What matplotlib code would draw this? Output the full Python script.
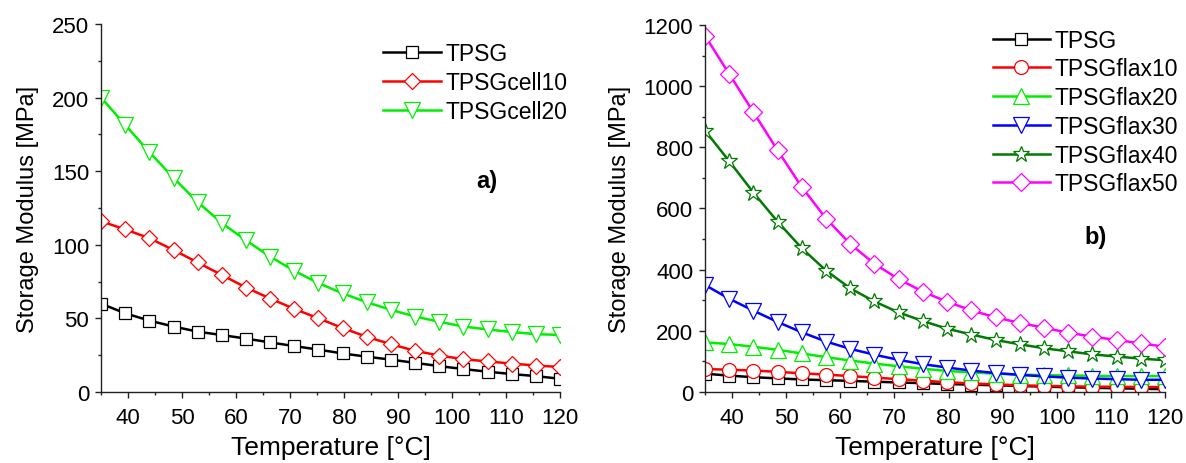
import numpy as np
import matplotlib.pyplot as plt
from matplotlib.ticker import MultipleLocator

plt.rcParams['font.family'] = ['Liberation Sans', 'DejaVu Sans']

# temperatures of the plotted points [°C]
temp = np.linspace(35, 120, 20)

# panel a) storage modulus [MPa]
tpsg = [60, 53.5, 48.5, 44.5, 41, 38.7, 36.3, 33.7, 31.2, 28.8,
        26.2, 24, 22, 19.8, 17.6, 15.6, 13.8, 12.2, 10.8, 9]
cell10 = [116, 110.5, 104.5, 96.5, 88, 79.5, 71, 63.5, 56.5, 50,
          43.5, 37.5, 32.5, 28, 24.8, 22.3, 20.8, 19.3, 18, 17]
cell20 = [200, 181.5, 163, 145.5, 129, 114.8, 103, 92, 82.3, 74,
          67, 61, 55.8, 51.3, 47.7, 44.5, 42.5, 40.8, 39.3, 38.8]

# panel b) storage modulus [MPa]
flax10 = [75, 73, 70, 66, 61, 57, 52, 47, 42, 37,
          32, 28, 25, 22, 20, 18.5, 17.5, 17, 16.5, 16]
flax20 = [162, 157, 148, 138, 126, 114, 103, 93, 84, 76,
          69, 64, 60, 57, 55, 54, 53, 52, 52, 52]
flax30 = [350, 305, 266, 229, 195, 165, 141, 122, 105, 91,
          80, 70, 62, 56, 51, 47, 44, 42, 40, 40]
flax40 = [855, 755, 652, 557, 470, 397, 339, 296, 260, 232,
          207, 188, 170, 156, 143, 133, 123, 116, 109, 104]
flax50 = [1165, 1040, 915, 790, 670, 567, 484, 419, 369, 328,
          295, 267, 244, 226, 210, 194, 181, 170, 159, 148]

FS = 16
LFS = 16.5


def series(ax, y, color, marker, label, ms=9):
    ax.plot(temp, y, color=color, lw=1.8, marker=marker, ms=ms,
            mfc='white', mec=color, mew=0.9, label=label)


def style(ax, ymax, major, minor):
    ax.set_xlim(35, 120)
    ax.set_ylim(0, ymax)
    ax.xaxis.set_major_locator(MultipleLocator(10))
    ax.xaxis.set_minor_locator(MultipleLocator(5))
    ax.yaxis.set_major_locator(MultipleLocator(major))
    ax.yaxis.set_minor_locator(MultipleLocator(minor))
    ax.set_xticks(np.arange(40, 121, 10))
    for s in ['top', 'right']:
        ax.spines[s].set_visible(False)
    for s in ['left', 'bottom']:
        ax.spines[s].set_linewidth(1.0)
        ax.spines[s].set_color('#222222')
    ax.tick_params(which='major', direction='out', length=4.5, width=1,
                   labelsize=FS, color='#222222')
    ax.tick_params(axis='x', which='major', pad=6)
    ax.tick_params(axis='y', which='major', pad=4)
    ax.tick_params(which='minor', direction='out', length=2.5, width=1,
                   color='#222222')
    ax.set_xlabel('Temperature [°C]', fontsize=19, labelpad=5)
    ax.set_ylabel('Storage Modulus [MPa]', fontsize=17, labelpad=9)


def legend(ax, anchor):
    ax.legend(loc='upper left', bbox_to_anchor=anchor, frameon=False,
              fontsize=LFS, handlelength=2.5, handletextpad=0.2,
              labelspacing=0.25, borderpad=0, borderaxespad=0)


fig = plt.figure(figsize=(11.86, 4.64), dpi=100)
ax1 = fig.add_axes([0.0852, 0.153, 0.387, 0.793])
ax2 = fig.add_axes([0.5944, 0.153, 0.388, 0.791])

series(ax1, tpsg, 'black', 's', 'TPSG', ms=8.5)
series(ax1, cell10, '#ff0000', 'D', 'TPSGcell10', ms=8.5)
series(ax1, cell20, '#00ee00', 'v', 'TPSGcell20', ms=11)
style(ax1, 250, 50, 25)
legend(ax1, (0.615, 0.95))
ax1.text(0.84, 0.575, 'a)', transform=ax1.transAxes, fontsize=17,
         fontweight='bold', ha='center', va='center')

series(ax2, tpsg, 'black', 's', 'TPSG', ms=8.5)
series(ax2, flax10, '#ff0000', 'o', 'TPSGflax10', ms=10)
series(ax2, flax20, '#00ee00', '^', 'TPSGflax20', ms=11)
series(ax2, flax30, '#0000ff', 'v', 'TPSGflax30', ms=11)
series(ax2, flax40, '#007a00', '*', 'TPSGflax40', ms=12)
series(ax2, flax50, '#ff00ff', 'D', 'TPSGflax50', ms=9.5)
style(ax2, 1200, 200, 100)
legend(ax2, (0.625, 0.99))
ax2.text(0.848, 0.425, 'b)', transform=ax2.transAxes, fontsize=17,
         fontweight='bold', ha='center', va='center')

fig.savefig('out.png', dpi=100)
